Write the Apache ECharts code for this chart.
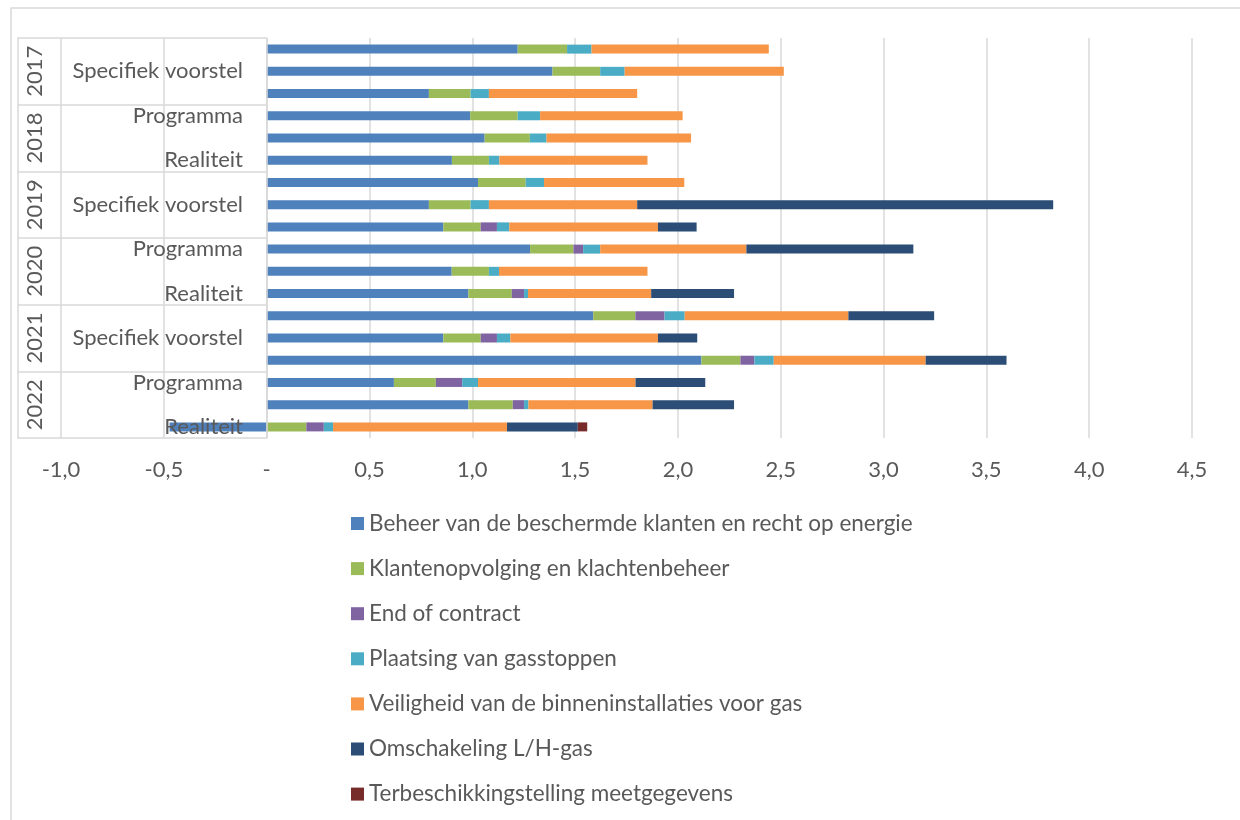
<!DOCTYPE html>
<html>
<head>
<meta charset="utf-8">
<script src="https://cdn.jsdelivr.net/npm/echarts@6.0.0/dist/echarts.min.js"></script>
<style>
  html, body { margin: 0; padding: 0; background: #fff; }
  #chart { width: 1240px; height: 820px; }
</style>
</head>
<body>
<div id="chart"></div>
<script>
  // rows top to bottom, 3 per year
  const years = ['2017', '2018', '2019', '2020', '2021', '2022']
  const rowLabels = [
    '', 'Specifiek voorstel', '',
    'Programma', '', 'Realiteit',
    '', 'Specifiek voorstel', '',
    'Programma', '', 'Realiteit',
    '', 'Specifiek voorstel', '',
    'Programma', '', 'Realiteit'
  ]
  const seriesNames = [
    'Beheer van de beschermde klanten en recht op energie',
    'Klantenopvolging en klachtenbeheer',
    'End of contract',
    'Plaatsing van gasstoppen',
    'Veiligheid van de binneninstallaties voor gas',
    'Omschakeling L/H-gas',
    'Terbeschikkingstelling meetgegevens'
  ]
  const colors = ['#4f81bd', '#9bbb59', '#8064a2', '#4bacc6', '#f79646', '#2c4d75', '#772c2a']

  const beheer = [1.221, 1.390, 0.789, 0.990, 1.060, 0.901, 1.028, 0.789, 0.859, 1.281, 0.900, 0.981, 1.588, 0.859, 2.114, 0.619, 0.981, -0.472]
  const klanten = [0.240, 0.232, 0.203, 0.231, 0.220, 0.180, 0.232, 0.203, 0.182, 0.211, 0.181, 0.211, 0.205, 0.182, 0.190, 0.204, 0.216, 0.193]
  const endOfContract = [0, 0, 0, 0, 0, 0, 0, 0, 0.079, 0.047, 0, 0.060, 0.142, 0.079, 0.068, 0.128, 0.055, 0.085]
  const gasstoppen = [0.119, 0.119, 0.089, 0.109, 0.081, 0.051, 0.089, 0.089, 0.060, 0.083, 0.049, 0.019, 0.098, 0.065, 0.094, 0.077, 0.021, 0.045]
  const veiligheid = [0.862, 0.774, 0.721, 0.693, 0.703, 0.720, 0.682, 0.721, 0.723, 0.711, 0.722, 0.599, 0.796, 0.718, 0.739, 0.766, 0.604, 0.846]
  const omschakeling = [0, 0, 0, 0, 0, 0, 0, 2.023, 0.188, 0.812, 0, 0.403, 0.417, 0.191, 0.393, 0.339, 0.396, 0.344]
  const meetgegevens = [0, 0, 0, 0, 0, 0, 0, 0, 0, 0, 0, 0, 0, 0, 0, 0, 0, 0.046]

  const xMin = -1
  const xMax = 4.5
  const xStep = 0.5

  const allData = [beheer, klanten, endOfContract, gasstoppen, veiligheid, omschakeling, meetgegevens]
  const rowKeys = []
  years.forEach((y) => {
    for (let i = 0; i < 3; i++) rowKeys.push(y + '-' + i)
  })

  const font = 'Lato'
  const textColor = '#595959'
  const lineColor = '#d9d9d9'

  const myChart = echarts.init(document.getElementById('chart'))

  const option = {
    animation: false,
    textStyle: { fontFamily: font },
    color: colors,
    grid: {
      left: 61,
      right: 48,
      top: 38,
      bottom: 382,
      containLabel: false,
      outerBoundsMode: 'none'
    },
    legend: {
      orient: 'vertical',
      left: 351,
      top: 512,
      padding: 0,
      itemWidth: 13,
      itemHeight: 13,
      itemGap: 22.1,
      icon: 'rect',
      data: seriesNames,
      textStyle: {
        color: textColor,
        fontSize: 22.5,
        lineHeight: 22,
        fontFamily: font
      }
    },
    xAxis: {
      type: 'value',
      min: xMin,
      max: xMax,
      interval: xStep,
      axisLine: { show: false },
      axisTick: { show: false },
      axisLabel: {
        color: textColor,
        fontSize: 22,
        margin: 21,
        formatter: (v) => (v === 0 ? '-' : v.toFixed(1).replace('.', ','))
      },
      splitLine: {
        show: true,
        lineStyle: { color: lineColor, width: 1.5 }
      }
    },
    yAxis: [
      {
        // sub-labels; the line sits on x = 0, labels stay measured from the grid edge
        type: 'category',
        inverse: true,
        data: rowKeys,
        z: 5,
        axisLine: {
          show: true,
          onZero: true,
          lineStyle: { color: lineColor, width: 1.5 }
        },
        axisTick: {
          show: true,
          inside: false,
          length: 249,
          interval: (i) => i % 3 === 0,
          lineStyle: { color: lineColor, width: 1.5 }
        },
        axisLabel: {
          interval: 0,
          hideOverlap: false,
          color: textColor,
          fontSize: 22,
          margin: -182,
          formatter: (v, i) => rowLabels[i]
        }
      },
      {
        // year column
        type: 'category',
        inverse: true,
        position: 'left',
        offset: 43,
        data: rowKeys,
        axisLine: {
          show: true,
          onZero: false,
          lineStyle: { color: lineColor, width: 1.5 }
        },
        axisTick: { show: false },
        axisLabel: {
          interval: 0,
          hideOverlap: false,
          inside: true,
          rotate: 90,
          color: textColor,
          fontSize: 22,
          margin: 6,
          formatter: (v, i) => (i % 3 === 1 ? years[Math.floor(i / 3)] : '')
        }
      }
    ],
    graphic: [
      {
        type: 'rect',
        silent: true,
        shape: { x: 11, y: 8, width: 1400, height: 1000 },
        style: { fill: 'none', stroke: lineColor, lineWidth: 1.5 }
      }
    ],
    series: seriesNames.map((name, k) => ({
      name: name,
      type: 'bar',
      stack: 'total',
      yAxisIndex: 0,
      barWidth: 9,
      data: allData[k]
    }))
  }

  myChart.setOption(option)
</script>
</body>
</html>
